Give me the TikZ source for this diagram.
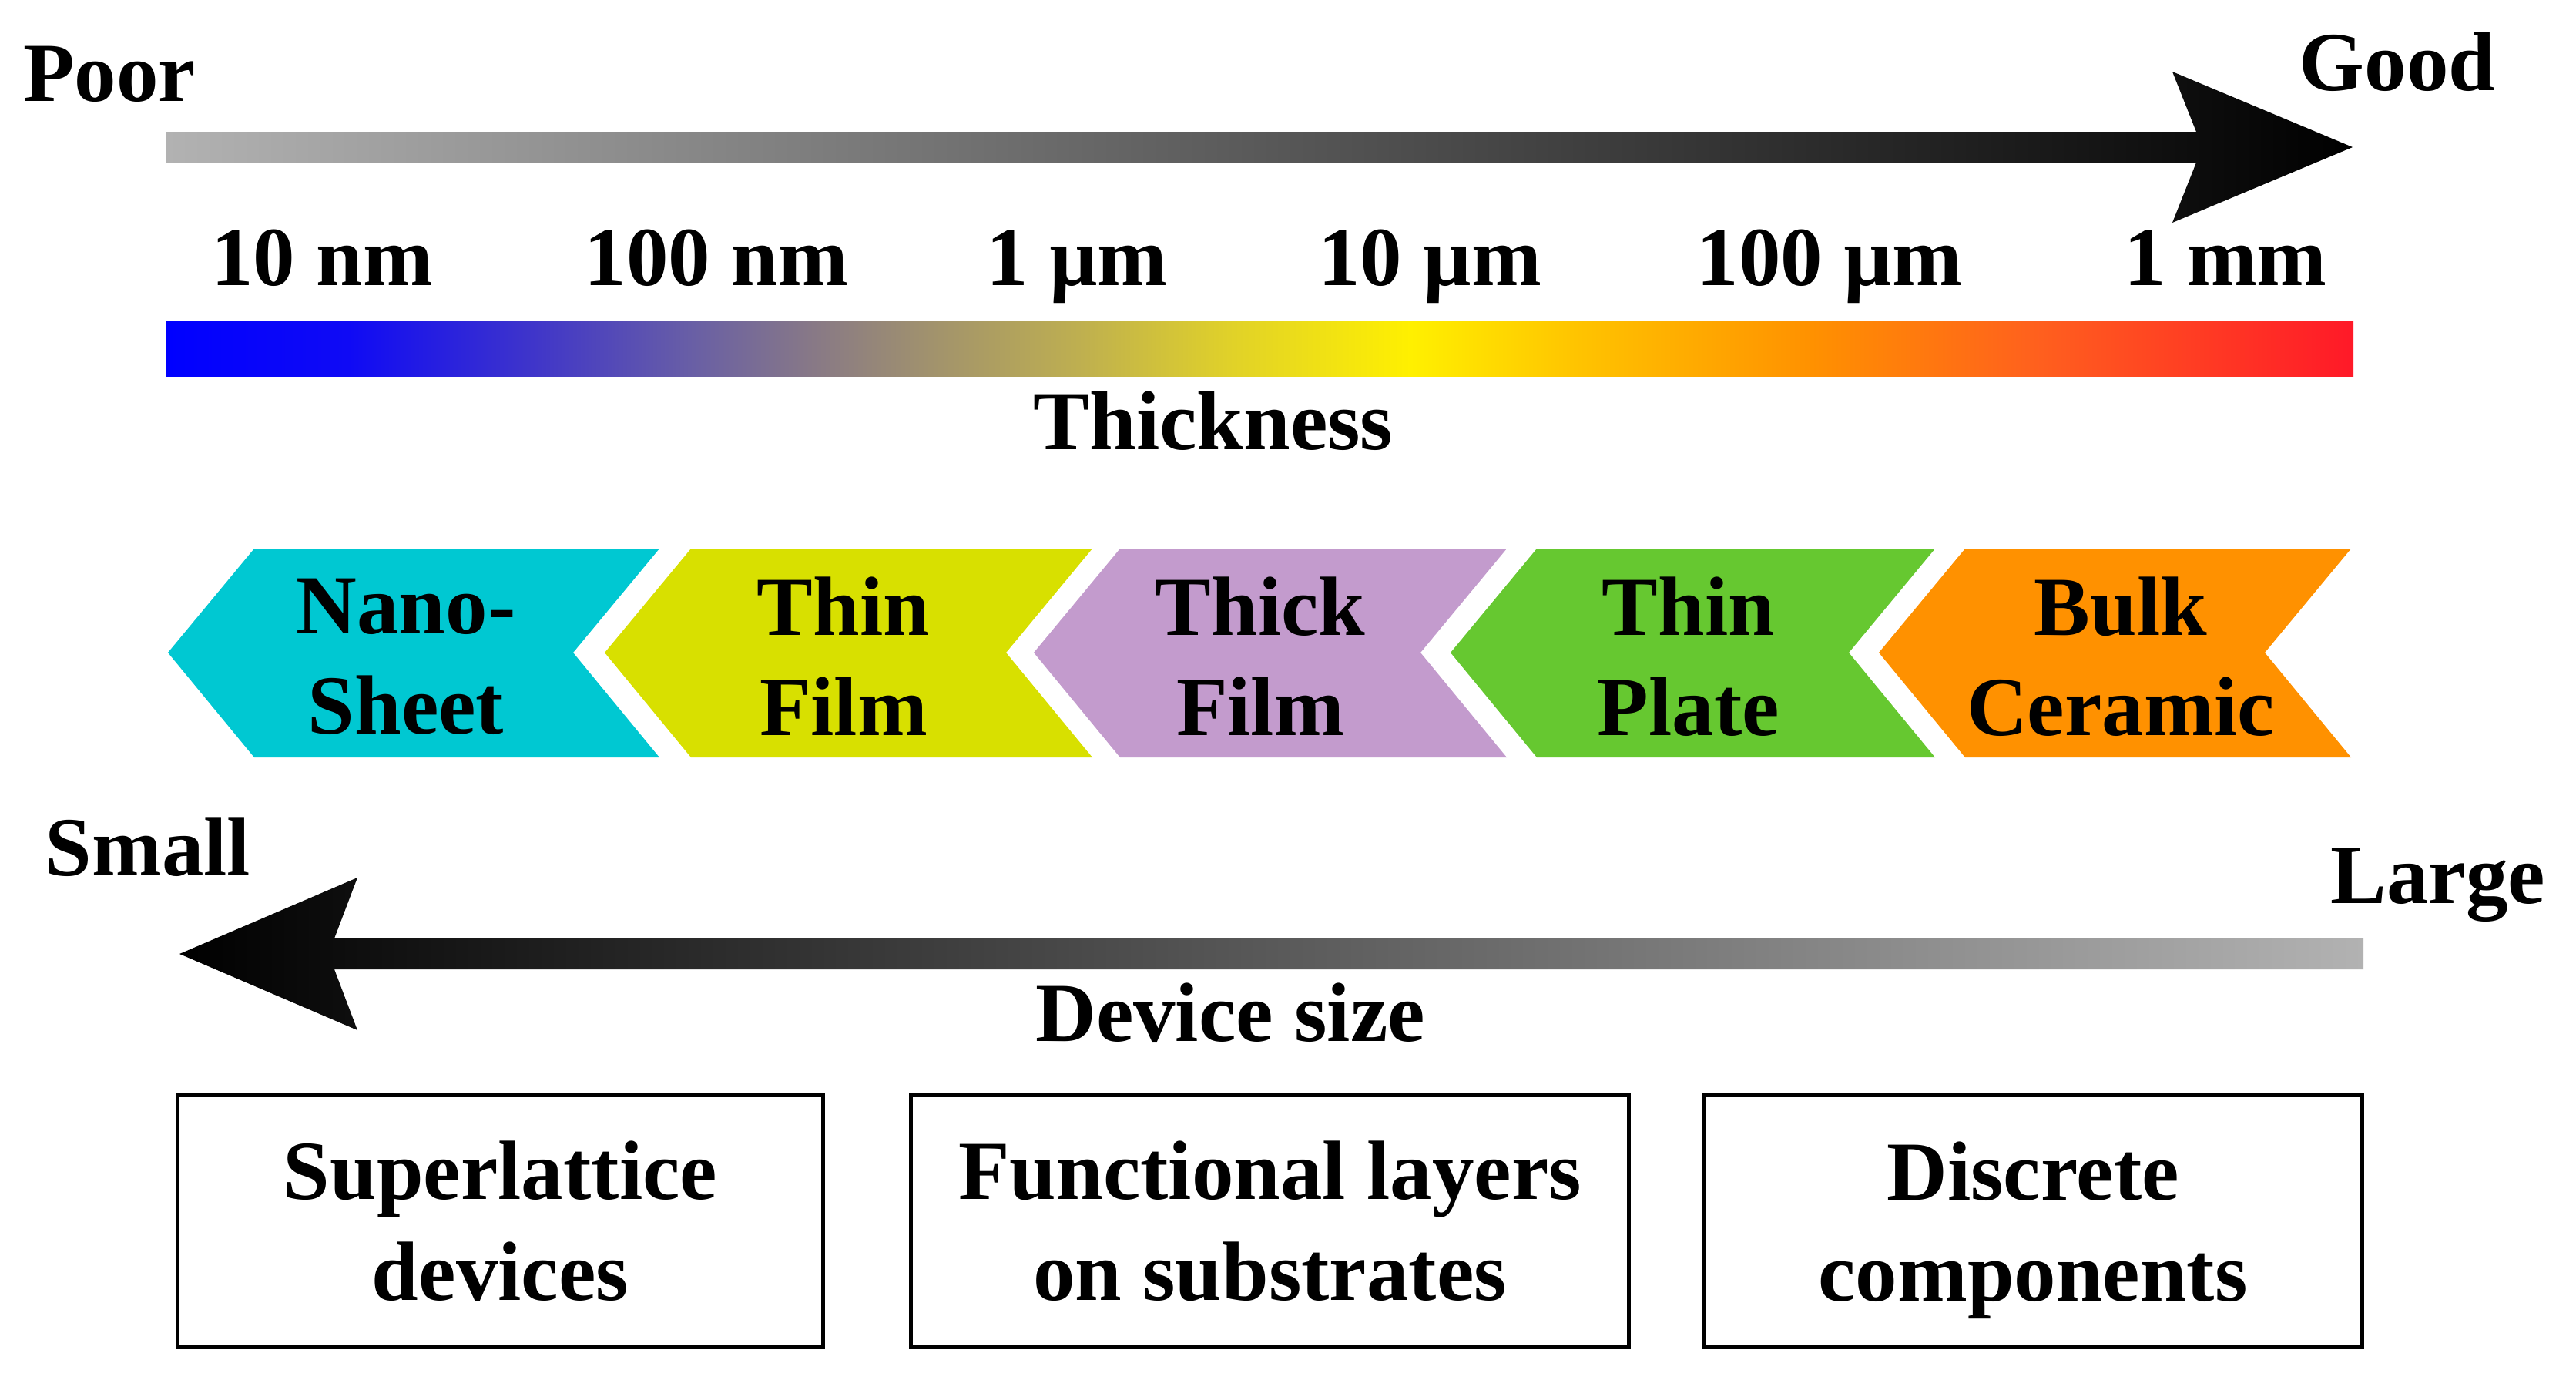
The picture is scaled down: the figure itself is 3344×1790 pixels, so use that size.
\documentclass[tikz,border=0pt]{standalone}
\usepackage{fontspec}
\setmainfont{Liberation Serif}
\definecolor{cNano}{RGB}{0,200,210}
\definecolor{cThinFilm}{RGB}{216,224,0}
\definecolor{cThickFilm}{RGB}{195,155,205}
\definecolor{cPlate}{RGB}{102,200,48}
\definecolor{cBulk}{RGB}{255,145,0}
\definecolor{arrowgray}{RGB}{178,178,178}
\definecolor{g0}{RGB}{0,0,255}
\definecolor{g1}{RGB}{15,10,245}
\definecolor{g2}{RGB}{65,55,200}
\definecolor{g3}{RGB}{105,95,165}
\definecolor{g4}{RGB}{135,120,135}
\definecolor{g5}{RGB}{160,145,110}
\definecolor{g6}{RGB}{190,175,80}
\definecolor{g7}{RGB}{225,210,40}
\definecolor{g8}{RGB}{255,240,0}
\definecolor{g9}{RGB}{255,195,0}
\definecolor{g10}{RGB}{255,145,0}
\definecolor{g11}{RGB}{255,95,30}
\definecolor{g12}{RGB}{255,25,40}
\pgfdeclarehorizontalshading{thickbar}{100bp}{color(0bp)=(g0); color(25bp)=(g0); color(29.15bp)=(g1); color(33.55bp)=(g2); color(37.05bp)=(g3); color(39.7bp)=(g4); color(42.35bp)=(g5); color(45.85bp)=(g6); color(49.4bp)=(g7); color(53.45bp)=(g8); color(57.3bp)=(g9); color(62.6bp)=(g10); color(67.85bp)=(g11); color(75bp)=(g12); color(100bp)=(g12)}
\newcommand\mychev[3]{\fill[#3] (#1,847) -- ({#1+112},712) -- ({#1+112+#2},712) -- ({#1+#2},847) -- ({#1+112+#2},983) -- ({#1+112},983) -- cycle;}
\begin{document}
\begin{tikzpicture}[x=0.01cm,y=-0.01cm,
  lbl/.style={font=\fontsize{31}{37}\selectfont\bfseries, inner sep=0pt},
  chevtxt/.style={lbl, align=center},
  devbox/.style={draw, line width=0.05cm, align=center, minimum height=3.26cm, inner sep=0pt,
    font=\fontsize{31}{37.3}\selectfont\bfseries}]
\useasboundingbox (0,0) rectangle (3344,1790);
\fill[white] (0,0) rectangle (3344,1790);

% top arrow (quality)
\shade[left color=arrowgray, right color=black]
  (216,171) -- (2851,171) -- (2820,93) -- (3054,191) -- (2820,289) -- (2851,211) -- (216,211) -- cycle;
\node[lbl, anchor=base] (poor) at (142,131) {Poor};
\node[lbl, anchor=base] (good) at (3112,117) {Good};

% thickness ticks
\node[lbl, anchor=base] (t1) at (418,370) {10 nm};
\node[lbl, anchor=base] (t2) at (930,370) {100 nm};
\node[lbl, anchor=base] (t3) at (1398,370) {1 µm};
\node[lbl, anchor=base] (t4) at (1856,370) {10 µm};
\node[lbl, anchor=base] (t5) at (2375,370) {100 µm};
\node[lbl, anchor=base] (t6) at (2889,370) {1 mm};

% thickness colour bar
\shade[shading=thickbar] (216,416) rectangle (3055,488);
\node[lbl, anchor=base] (thick) at (1575,583) {Thickness};

% chevrons
\mychev{218}{526}{cNano}
\mychev{785}{521}{cThinFilm}
\mychev{1342}{502}{cThickFilm}
\mychev{1883}{517}{cPlate}
\mychev{2439}{501}{cBulk}
\node[chevtxt] (nano) at (527,852) {Nano-\\Sheet};
\node[chevtxt] (thinfilm) at (1095,852) {Thin\\Film};
\node[chevtxt] (thickfilm) at (1636,852) {Thick\\Film};
\node[chevtxt] (thinplate) at (2192,852) {Thin\\Plate};
\node[chevtxt] (bulk) at (2753,852) {Bulk\\Ceramic};

% bottom arrow (device size)
\shade[left color=black, right color=arrowgray]
  (3068,1218) -- (434,1218) -- (464,1139) -- (233,1238) -- (464,1337) -- (434,1258) -- (3068,1258) -- cycle;
\node[lbl, anchor=base] (small) at (192,1136) {Small};
\node[lbl, anchor=base] (large) at (3165,1172) {Large};
\node[lbl, anchor=base] (devsize) at (1597,1351) {Device size};

% application boxes
\node[devbox, minimum width=8.38cm] (b1) at (649.5,1585) {Superlattice\\devices};
\node[devbox, minimum width=9.32cm] (b2) at (1648.5,1585) {Functional layers\\on substrates};
\node[devbox, minimum width=8.535cm] (b3) at (2639,1585) {Discrete\\\smash{components}};
\end{tikzpicture}
\end{document}
